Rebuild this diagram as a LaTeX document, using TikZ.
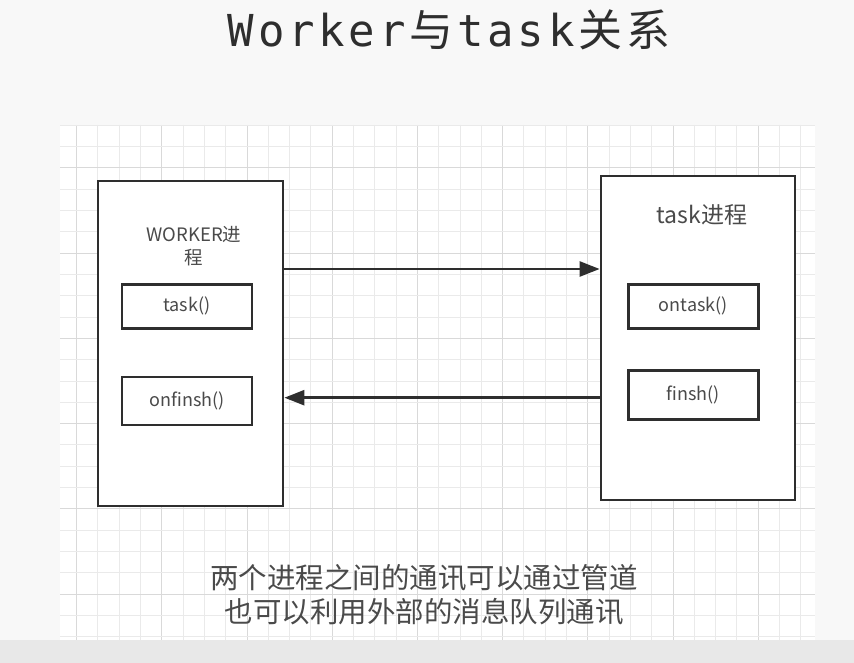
\documentclass[tikz,border=0pt]{standalone}
\usepackage{fontspec}
\setmainfont{Noto Sans CJK SC}
\newfontfamily\cjk{Noto Sans CJK SC}
\newfontfamily\titlemono{DejaVu Sans Mono}
\usetikzlibrary{arrows.meta}
\definecolor{ink}{HTML}{2E2E2E}
\definecolor{txt}{HTML}{4A4A4A}
\definecolor{gridminor}{HTML}{EAEAEA}
\definecolor{gridmajor}{HTML}{D9D9D9}
\definecolor{pagebg}{HTML}{F8F8F8}
\definecolor{stripbg}{HTML}{E8E8E8}
\newcommand\tsp[1]{#1\hspace{3.8pt}}
\tikzset{
  bigbox/.style={draw=ink, line width=2.8pt, fill=white, inner sep=0pt},
  fnbox/.style={draw=ink, line width=2.8pt, fill=white, inner sep=0pt, minimum width=130pt, text=txt, font=\cjk\fontsize{18}{20}\selectfont},
  arr/.style={draw=ink, line width=2.6pt, -{Triangle[length=20pt,width=15pt]}},
}
\begin{document}
\begin{tikzpicture}[x=1pt,y=-1pt]
\useasboundingbox (0,0) rectangle (854,663);
\fill[pagebg] (0,0) rectangle (854,663);
\fill[stripbg] (0,640) rectangle (854,663);
% panel
\fill[white] (60,125) rectangle (815,640);
\foreach \i in {0,...,34} {
  \pgfmathtruncatemacro\m{mod(\i,4)}
  \ifnum\m=0 \def\gc{gridmajor}\else\def\gc{gridminor}\fi
  \draw[\gc, line width=1pt] ({76.6+21.3*\i},125) -- ({76.6+21.3*\i},640);
}
\foreach \j in {0,...,24} {
  \pgfmathtruncatemacro\m{mod(\j,4)}
  \ifnum\m=2 \def\gc{gridmajor}\else\def\gc{gridminor}\fi
  \draw[\gc, line width=1pt] (60,{125.4+21.3*\j}) -- (815,{125.4+21.3*\j});
}
% title
\node[anchor=base, text=ink, inner sep=0pt] (title) at (449,47)
  {\fontsize{44}{50}\selectfont\titlemono\tsp{W}\tsp{o}\tsp{r}\tsp{k}\tsp{e}\tsp{r}{\cjk\tsp{与}}\tsp{t}\tsp{a}\tsp{s}\tsp{k}{\cjk\tsp{关}系}};
% big boxes
\node[bigbox, minimum width=185pt, minimum height=325pt] (L) at (190.5,343.5) {};
\node[bigbox, minimum width=194pt, minimum height=324pt] (R) at (698,338) {};
% labels in boxes
\node[text=txt, align=center, font=\cjk\fontsize{18.5}{23}\selectfont, inner sep=0pt] (Llab) at (194,246) {WORKER进\\程};
\node[text=txt, font=\cjk\fontsize{23}{26}\selectfont, inner sep=0pt] (Rlab) at (702,215) {task进程};
% function boxes
\node[fnbox, minimum height=44pt] (task) at (187,306.3) {task()};
\node[fnbox, minimum height=48pt] (onfinsh) at (187,401) {onfinsh()};
\node[fnbox, minimum height=44pt] (ontask) at (693.3,306.2) {ontask()};
\node[fnbox, minimum height=48.6pt] (finsh) at (693.3,395) {finsh()};
% arrows
\draw[arr] (L.east |- 0,269) -- (R.west |- 0,269);
\draw[arr] (R.west |- 0,397.7) -- (L.east |- 0,397.7);
% bottom text
\node[text=txt, align=center, font=\cjk\fontsize{28.5}{34}\selectfont, inner sep=0pt] (note) at (424,595)
  {两个进程之间的通讯可以通过管道\\也可以利用外部的消息队列通讯};
\end{tikzpicture}
\end{document}
